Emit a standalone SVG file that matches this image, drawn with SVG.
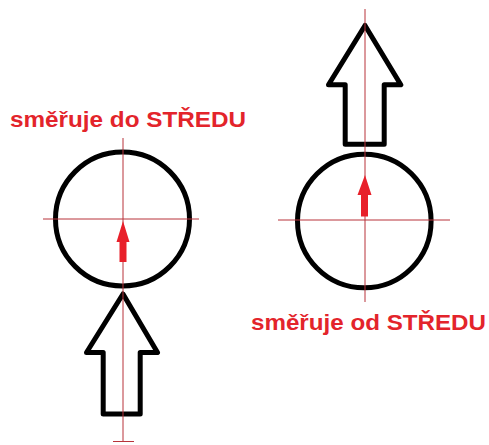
<svg xmlns="http://www.w3.org/2000/svg" width="489" height="445" viewBox="0 0 489 445">
<style>
.axis{stroke:#b8333a;stroke-width:1;fill:none}
.ring{stroke:#000;stroke-width:5;fill:none}
.big{stroke:#000;stroke-width:5;fill:#fff;stroke-linejoin:round}
.small{fill:#e8202a}
.lbl{font-family:"Liberation Sans",Arial,sans-serif;font-weight:bold;font-size:22.5px;fill:#e3242b}
</style>
<rect width="489" height="445" fill="#fff"/>
<g id="left">
<circle class="ring" cx="122.5" cy="219" r="67"/>
<polygon class="big" points="123,294 157.5,352.5 140.2,352.5 140.2,414 103.2,414 103.2,352.5 86.5,352.5"/>
<path class="axis" d="M43,219H199M123,138V442M113,441.5H134"/>
<polygon class="small" points="123,221 129.5,242 126.5,242 126.5,262 119.5,262 119.5,242 116.5,242"/>
<text class="lbl" x="10" y="127" textLength="236" lengthAdjust="spacingAndGlyphs">směřuje do STŘEDU</text>
</g>
<g id="right">
<circle class="ring" cx="364.3" cy="221" r="66.8"/>
<polygon class="big" points="365,25.5 400.8,84.8 384.2,84.8 384.2,144.2 345.2,144.2 345.2,84.8 328.5,84.8"/>
<path class="axis" d="M278,220H450M365,9V302"/>
<polygon class="small" points="365,175 371.5,195 368,195 368,216.5 361,216.5 361,195 357.5,195"/>
<text class="lbl" x="251" y="330" textLength="235" lengthAdjust="spacingAndGlyphs">směřuje od STŘEDU</text>
</g>
</svg>
